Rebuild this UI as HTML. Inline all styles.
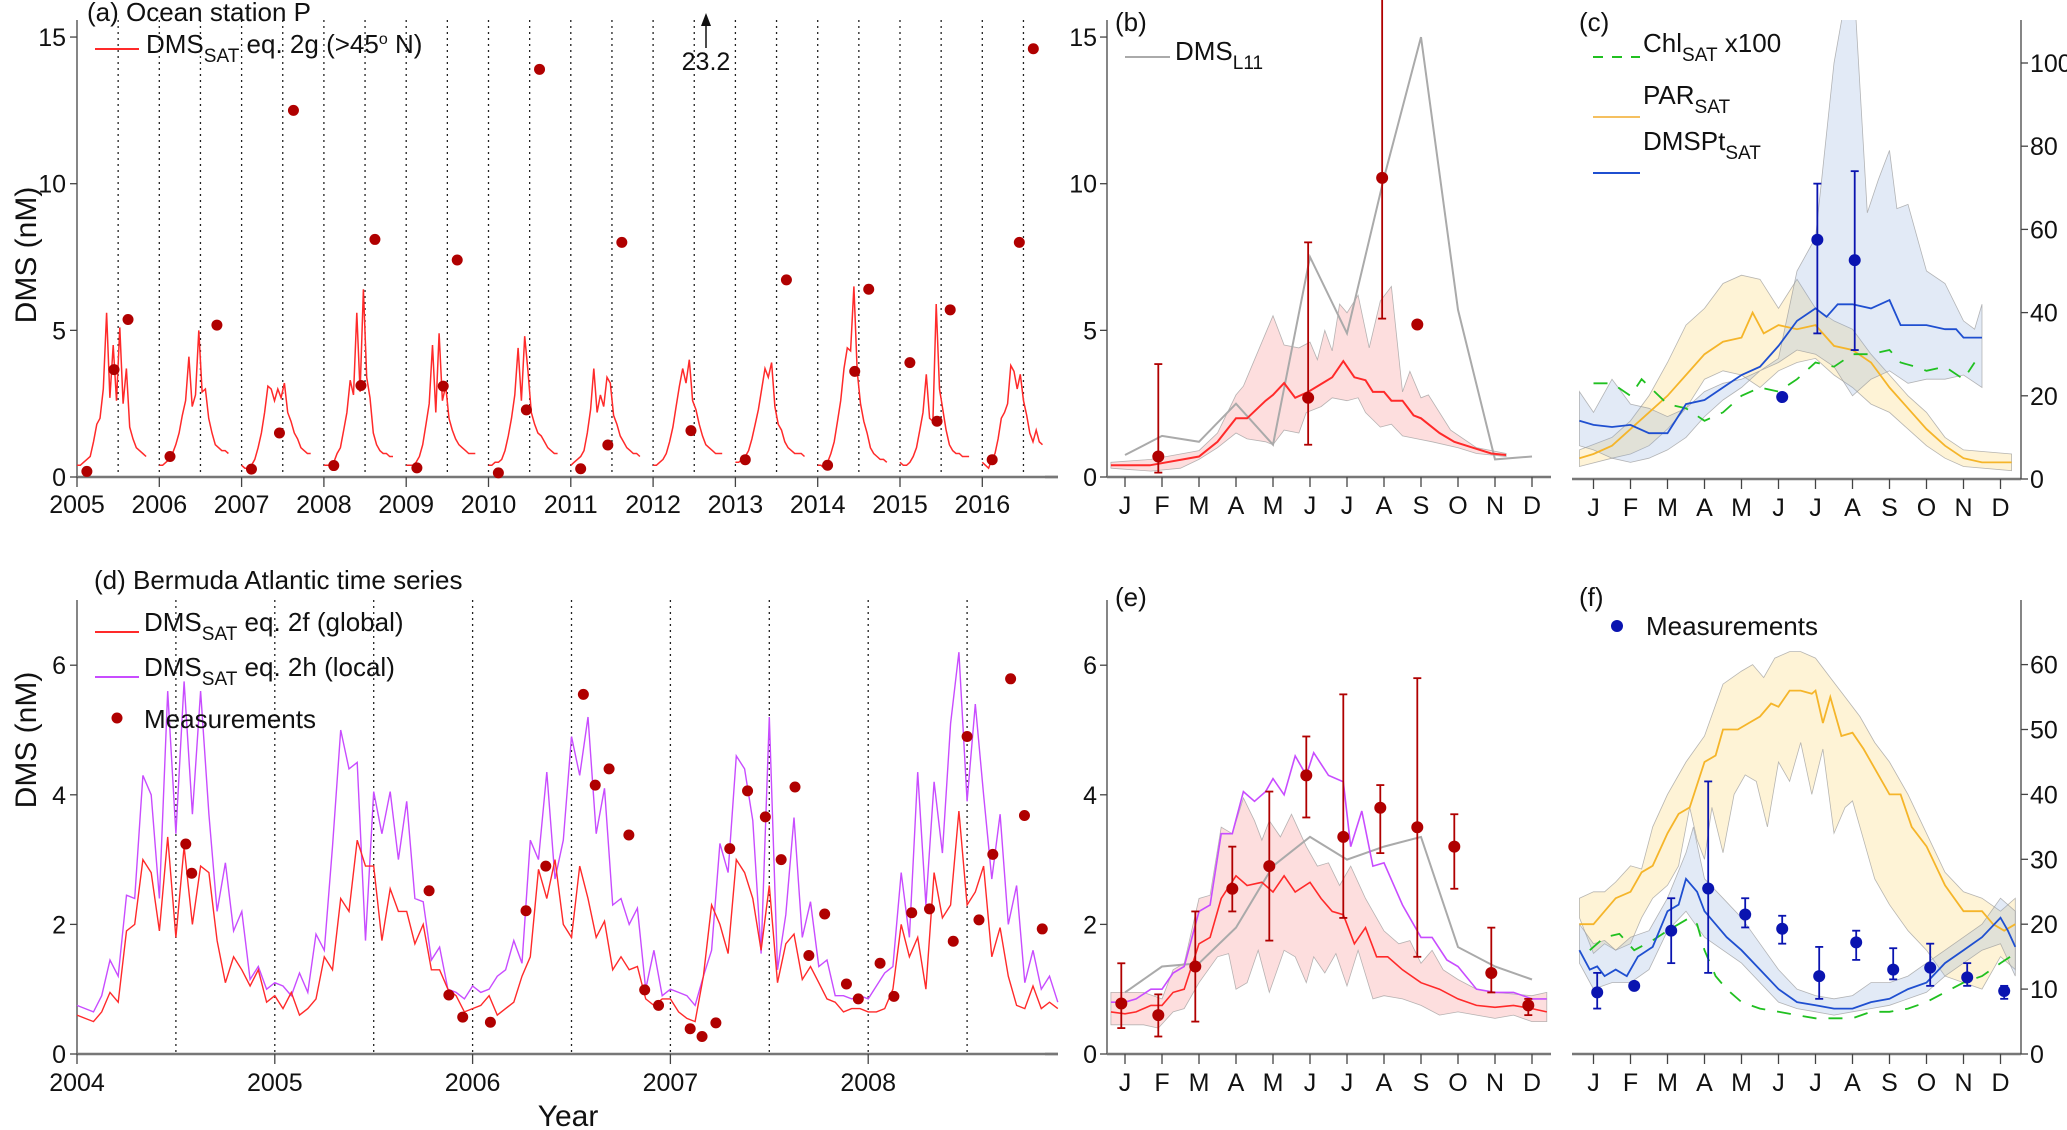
<!DOCTYPE html>
<html><head><meta charset="utf-8">
<style>
html,body{margin:0;padding:0;background:#fff;}
svg{display:block;font-family:"Liberation Sans Narrow","Liberation Sans",sans-serif;}
</style></head>
<body>
<svg id="fig" width="2067" height="1130" viewBox="0 0 2067 1130" xmlns="http://www.w3.org/2000/svg">
<defs>
<clipPath id="clipC"><rect x="1572" y="20" width="449" height="460"/></clipPath>
</defs>
</svg>
<script>
// ===== Panel (a) data =====
const aYears=[2005,2006,2007,2008,2009,2010,2011,2012,2013,2014,2015,2016];
const aSeries=[
[0.4,0.4,0.5,0.6,0.7,1.2,1.8,2.0,3.0,5.6,2.7,4.5,2.6,5.1,2.5,3.7,1.7,1.3,1.0,0.9,0.8,0.7],
[0.4,0.4,0.5,0.6,0.8,1.1,1.5,2.1,2.6,4.1,2.4,2.8,5.0,2.9,3.0,2.0,1.5,1.1,1.0,0.9,0.9,0.8],
[0.4,0.3,0.3,0.4,0.6,1.0,1.5,2.2,3.1,3.0,2.6,3.0,2.7,3.2,2.2,1.9,1.5,1.3,1.0,0.9,0.8,0.8],
[0.4,0.4,0.4,0.5,0.8,1.0,1.6,2.2,3.3,2.8,5.6,2.9,6.4,3.4,2.7,1.5,1.1,0.9,0.8,0.8,0.7,0.7],
[0.4,0.4,0.4,0.5,0.7,1.1,1.8,2.5,4.5,2.2,4.9,2.6,3.1,2.0,1.6,1.3,1.1,1.0,0.9,0.8,0.8,0.8],
[0.4,0.4,0.5,0.5,0.6,0.9,1.4,2.0,2.8,4.4,2.6,4.8,3.6,2.2,1.8,1.5,1.4,1.2,1.0,0.9,0.8,0.8],
[0.4,0.5,0.6,0.7,0.9,1.5,2.3,3.7,2.2,2.8,2.4,3.4,3.2,2.1,1.8,1.4,1.2,1.0,0.9,0.8,0.8,0.7],
[0.4,0.4,0.5,0.6,0.8,1.2,1.7,2.4,3.1,3.7,3.2,4.0,2.6,2.3,1.8,1.4,1.1,1.0,0.9,0.8,0.8,0.8],
[0.5,0.5,0.6,0.7,0.9,1.3,1.8,2.3,3.0,3.7,3.4,3.9,2.4,1.8,1.6,1.2,1.0,0.9,0.8,0.8,0.8,0.7],
[0.4,0.4,0.3,0.5,0.8,1.2,1.9,2.6,3.7,4.4,4.3,6.5,3.6,2.5,1.9,1.5,1.0,0.8,0.7,0.6,0.6,0.5],
[0.5,0.4,0.4,0.5,0.7,1.0,1.6,2.2,3.5,2.0,1.9,5.9,3.0,2.3,1.6,1.1,0.9,0.8,0.8,0.7,0.7,0.7],
[0.5,0.4,0.3,0.6,0.8,1.3,2.0,2.2,2.5,3.8,3.6,3.0,3.5,2.6,2.1,1.5,1.2,1.6,1.2,1.1]
];
const aMeasT=[2005.12,2005.45,2005.62,2006.13,2006.70,2007.12,2007.46,2007.63,2008.12,2008.45,2008.62,2009.13,2009.45,2009.62,2010.12,2010.46,2010.62,2011.12,2011.45,2011.62,2012.46,2013.12,2013.62,2014.12,2014.45,2014.62,2015.12,2015.45,2015.61,2016.12,2016.45,2016.62];
const aMeasV=[0.19,3.66,5.37,0.7,5.18,0.27,1.5,12.5,0.39,3.12,8.1,0.31,3.1,7.4,0.14,2.29,13.9,0.28,1.09,8.0,1.58,0.59,6.72,0.4,3.6,6.4,3.9,1.9,5.7,0.59,8.0,14.6];
const aTicks=[0,5,10,15];

// ===== Panel (b) data =====
const bRedX=[-0.38,0.67,2,2.5,3.0,3.3,3.8,4.0,4.3,4.6,4.95,5.6,5.9,6.2,6.5,6.7,7.0,7.2,7.5,7.8,8.0,8.5,8.9,9.4,9.9,10.3];
const bRedY=[0.4,0.4,0.7,1.2,2.0,2.0,2.6,2.8,3.2,2.7,2.9,3.4,3.95,3.4,3.3,2.9,2.9,2.6,2.6,2.1,2.0,1.5,1.2,1.0,0.8,0.75];
const bUpX=[-0.38,0.7,2,2.5,3.0,3.2,4.0,4.3,4.7,5.0,5.2,5.4,5.6,5.8,6.0,6.3,6.6,6.9,7.2,7.5,7.7,8.0,8.2,8.8,9.5,10.3];
const bUpY=[0.5,0.6,0.9,1.5,2.8,3.1,5.5,4.5,4.4,4.6,4.0,5.0,4.3,5.9,5.6,6.2,4.4,6.0,6.5,2.9,3.6,2.7,2.8,1.6,1.0,0.8];
const bLoX=[-0.38,0.7,1.5,2.0,2.5,3.0,3.3,3.8,4.0,4.3,4.7,4.9,5.3,5.6,6.0,6.3,6.5,6.9,7.2,7.5,7.9,8.3,9.0,9.5,10.3];
const bLoY=[0.3,0.2,0.3,0.6,1.0,1.5,1.3,1.2,1.1,1.6,1.5,2.2,2.4,2.7,2.6,2.7,2.2,1.7,1.8,1.4,1.3,1.2,1.0,0.8,0.7];
const bL11X=[0,1,2,3,4,5,6,7,8,9,10,11];
const bL11Y=[0.75,1.4,1.2,2.5,1.1,7.5,4.9,10.2,15,5.7,0.6,0.7];
const bMeasX=[0.9,4.95,6.95,7.9];
const bMeasV=[0.7,2.7,10.2,5.2];
const bMeasLo=[0.15,1.1,5.4,5.2];
const bMeasHi=[3.85,8.0,16.5,5.2];

// ===== Panel (c) data (right axis) =====
const cBluX=[-0.38,0,0.5,1,1.5,2,2.5,3,3.5,4,4.5,5,5.5,6,6.3,6.6,7,7.5,8,8.3,8.7,9,9.5,9.8,10,10.3,10.5];
const cBluY=[14,13,12.5,13,11,11,18,19,22,25,27,32,38,41,39,42,42,41,43,37,37,37,36,36,34,34,34];
const cBluUpX=[-0.38,0,0.5,1,1.5,2,2.5,3,3.5,4,4.5,5,5.5,6,6.5,7,7.4,7.7,8.0,8.2,8.5,9,9.5,10,10.3,10.5];
const cBluUpY=[21,16,24,18,17,15,17,21,23,24,26,29,50,58,100,125,64,72,79,65,66,50,47,38,36,42];
const cBluLoX=[-0.38,0,0.5,1,1.5,2,2.5,3,3.5,4,4.5,5,5.5,6,6.5,7,7.5,8,8.5,9,9.5,10,10.5];
const cBluLoY=[8,7,5,4,5,7,10,15,19,22,26,28,31,30,27,20,24,26,23,24,24,25,22];
const cParX=[-0.38,0,0.5,1,1.5,2,2.5,3,3.5,4,4.3,4.6,5,5.5,6,6.5,7,7.5,8,8.5,9,9.5,10,10.5,11.3];
const cParY=[5,6,8,12,16,20,25,30,33,34,40,35,37,36,37,32,31,28,22,17,12,8,5,4,4];
const cParUpX=[-0.38,0.5,1,1.5,2,2.5,3,3.5,4,4.5,5,5.5,6,6.5,7,7.5,8,8.5,9,9.5,10,11.3];
const cParUpY=[7,10,14,20,28,37,41,47,49,48,41,48,41,38,36,30,25,20,16,10,7,6];
const cParLoX=[-0.38,0.5,1,1.5,2,2.5,3,3.5,4,4.5,5,5.5,6,6.5,7,7.5,8,8.5,9,9.5,10,11.3];
const cParLoY=[3,5,6,8,12,17,24,26,25,22,26,28,29,25,22,18,16,12,8,5,3,2];
const cChlX=[0,0.5,1,1.3,2,2.5,3,3.5,4,4.5,5,5.5,6,6.5,7,7.5,8,8.3,8.7,9,9.5,10,10.3];
const cChlY=[23,23,20,24,18,17,14,16,20,22,21,24,28,27,30,30,31,28,27,26,27,24,28];
const cMeasX=[5.1,6.05,7.06];
const cMeasV=[19.7,57.5,52.6];
const cMeasLo=[19.7,35,31];
const cMeasHi=[19.7,71,74];
const cTicks=[0,20,40,60,80,100];

// ===== Panel (d) data =====
const dStart=2004;
const dRed=[0.6,0.55,0.5,0.65,0.95,0.8,1.9,2.0,3.0,2.8,1.9,3.35,1.8,3.2,2.0,2.9,2.8,1.75,1.1,1.5,1.3,1.05,1.3,0.8,
0.9,0.7,0.95,0.6,0.7,0.85,1.5,1.3,2.4,2.2,3.3,2.9,2.9,1.75,2.55,2.2,2.2,1.7,2.0,1.3,1.3,1.0,0.9,0.65,
0.7,0.75,0.9,0.6,0.7,0.8,1.2,1.5,2.85,2.4,3.0,2.0,1.8,2.9,2.4,1.8,2.05,1.3,1.5,1.3,1.35,0.85,0.75,0.85,
0.85,0.65,0.55,0.5,1.2,2.3,2.0,1.55,3.0,2.8,2.4,1.6,2.6,1.1,1.7,1.85,1.15,1.35,1.1,0.85,0.8,0.65,0.7,0.7,
0.65,0.65,0.7,1.0,2.0,1.5,1.8,1.0,2.8,2.1,2.3,3.75,2.3,2.5,2.9,1.5,1.95,1.2,0.75,0.7,1.05,0.7,0.8,0.7];
const dPur=[0.75,0.7,0.65,0.9,1.45,1.2,2.45,2.4,4.3,4.0,2.4,5.6,3.4,5.75,3.7,5.6,3.7,2.2,2.95,1.9,2.2,1.15,1.35,1.0,
1.1,1.05,0.9,1.25,0.95,1.85,1.6,3.2,5.0,4.4,4.5,1.75,4.05,3.4,4.05,3.0,3.9,2.4,2.35,1.45,1.65,1.0,0.95,0.85,
1.05,0.95,1.0,1.2,1.3,1.75,1.4,3.3,3.0,4.35,2.7,3.3,4.9,4.3,5.2,3.4,4.1,2.3,2.4,2.0,2.25,1.0,1.6,0.9,
1.0,0.95,0.9,0.75,1.2,1.6,3.25,2.8,4.6,4.4,3.6,1.55,5.2,1.3,2.15,3.65,1.8,2.35,1.35,1.45,0.9,0.9,0.85,0.9,
0.85,1.05,1.25,1.35,2.8,1.8,4.35,2.3,4.2,3.1,5.1,6.2,3.9,5.4,4.0,2.7,3.7,2.0,2.6,1.1,1.6,1.0,1.2,0.8];
const dMeasT=[2004.55,2004.58,2005.78,2005.88,2005.95,2006.09,2006.27,2006.37,2006.56,2006.62,2006.69,2006.79,2006.87,2006.94,2007.10,2007.16,2007.23,2007.30,2007.39,2007.48,2007.56,2007.63,2007.70,2007.78,2007.89,2007.95,2008.06,2008.13,2008.22,2008.31,2008.43,2008.50,2008.56,2008.63,2008.72,2008.79,2008.88];
const dMeasV=[3.24,2.79,2.52,0.91,0.57,0.49,2.21,2.9,5.55,4.15,4.4,3.38,0.99,0.75,0.39,0.27,0.48,3.17,4.06,3.66,3.0,4.12,1.52,2.16,1.08,0.85,1.4,0.89,2.18,2.24,1.74,4.9,2.07,3.08,5.79,3.68,1.93];
const dTicks=[0,2,4,6];
const dYears=[2004,2005,2006,2007,2008];

// ===== Panel (e) data =====
const eRedX=[-0.38,0,0.3,0.7,1,1.3,1.6,2,2.3,2.6,3,3.3,3.7,4,4.3,4.6,5,5.3,5.6,5.9,6.2,6.5,6.8,7.1,7.5,8,8.5,9,9.5,10,10.5,11,11.4];
const eRedY=[0.65,0.62,0.65,0.75,0.75,0.95,1.0,1.7,1.8,2.4,2.75,2.6,2.65,2.5,2.75,2.5,2.65,2.4,2.2,2.15,1.7,1.95,1.5,1.5,1.3,1.1,1.0,0.85,0.75,0.72,0.75,0.7,0.65];
const ePurX=[-0.38,0,0.3,0.7,1,1.3,1.6,2,2.3,2.6,2.9,3.2,3.5,3.8,4.0,4.3,4.6,4.9,5.1,5.5,5.9,6.1,6.4,6.7,7.0,7.5,8.0,8.3,8.7,9.0,9.5,10,10.5,11,11.4];
const ePurY=[0.8,0.8,0.85,1.0,1.0,1.25,1.35,2.2,2.3,3.4,3.4,4.05,3.9,4.05,4.25,4.0,4.6,4.3,4.65,4.3,4.2,3.2,3.75,2.9,2.95,2.3,1.8,1.8,1.45,1.35,1.0,0.95,0.95,0.85,0.85];
const eUpX=[-0.38,0.5,1,1.3,1.6,2,2.3,2.6,2.9,3.2,3.5,3.7,3.9,4.2,4.5,4.9,5.2,5.5,5.8,6.1,6.5,7,7.4,7.7,8,8.3,8.6,9,9.5,10,11,11.4];
const eUpY=[0.95,0.95,0.85,1.3,1.4,2.4,2.45,3.5,3.4,3.95,3.6,3.3,3.6,3.35,3.7,3.2,2.9,2.95,2.6,2.9,2.4,1.9,1.7,1.75,1.4,1.6,1.3,1.15,1.0,0.95,0.9,0.95];
const eLoX=[-0.38,0,0.5,0.9,1.3,1.6,2,2.5,2.8,3.0,3.3,3.6,3.9,4.3,4.6,4.9,5.1,5.4,5.7,6,6.3,6.7,7,7.5,8,8.5,9,9.5,10,10.5,11,11.4];
const eLoY=[0.45,0.45,0.45,0.4,0.65,0.7,1.1,1.5,1.55,1.0,1.1,1.6,0.95,1.6,1.5,1.1,1.5,1.25,1.55,1.05,1.6,0.85,0.9,0.85,0.75,0.6,0.65,0.6,0.55,0.6,0.5,0.5];
const eL11X=[0,1,2,3,4,5,6,7,8,9,10,11];
const eL11Y=[0.95,1.35,1.4,1.95,2.9,3.35,3.0,3.2,3.35,1.65,1.35,1.15];
const eMeasX=[-0.1,0.9,1.9,2.9,3.9,4.9,5.9,6.9,7.9,8.9,9.9,10.9];
const eMeasV=[0.78,0.6,1.35,2.55,2.9,4.3,3.35,3.8,3.5,3.2,1.25,0.75];
const eMeasLo=[0.4,0.27,0.5,2.2,1.75,3.65,2.1,3.1,1.5,2.55,0.95,0.6];
const eMeasHi=[1.4,0.92,2.2,3.2,4.05,4.9,5.55,4.15,5.8,3.7,1.95,0.85];

// ===== Panel (f) data (right axis) =====
const fParX=[-0.38,0,0.3,0.6,1,1.3,1.6,2,2.3,2.6,3,3.3,3.5,3.9,4.2,4.5,4.8,5.0,5.3,5.6,5.9,6.0,6.2,6.4,6.7,7.0,7.3,7.7,8.0,8.3,8.6,9.0,9.5,10,10.5,10.8,11.1,11.4];
const fParY=[20,20,22,24,25,28,29,34,37,38,45,46,50,50,51,52,54,53.5,56,56,55.5,56,51,55,49,49.5,47,43,40,40,35,32,26,22,22,20,19,20];
const fParUpX=[-0.38,0,0.3,0.6,1,1.3,1.6,2,2.5,3,3.5,4,4.3,4.6,4.9,5.3,5.6,6,6.4,6.8,7.2,7.6,8.0,8.5,9,9.5,10,10.5,11,11.4];
const fParUpY=[24,25,25,26.5,29,28.5,35,40,45,49,57,59,60,58,61,62,62,61,58,55,52,48,45,40,34,28,25,24,22,24];
const fParLoX=[-0.38,0,0.3,0.6,1,1.3,1.6,2,2.3,2.6,2.8,3.0,3.2,3.5,3.8,4.1,4.4,4.7,5.0,5.3,5.6,5.9,6.2,6.5,6.8,7.0,7.3,7.6,8.0,8.5,9,9.5,10,10.5,11,11.4];
const fParLoY=[21,15.5,17,16,17,21,24,26,29,38,33,30,38,31,40,43,42,35,45,42,48,40,47,34,38,39,33,27,23,19,16,12,11,10,15,13];
const fBluX=[-0.38,-0.1,0.1,0.3,0.6,0.9,1.2,1.6,2,2.3,2.5,2.8,3.0,3.3,3.6,4,4.5,5,5.5,6,6.5,7,7.5,8,8.5,9,9.5,10,10.5,11,11.2,11.4];
const fBluY=[16,13,13.5,12,13,12,15,16.5,22,23,27,25,22,20,18,16,13,10,8,7.5,7,7,8,8.5,10,11,14,16,18,21,19,16.5];
const fBluUpX=[-0.38,0,0.3,0.6,1,1.5,2,2.5,2.7,3,3.5,4,4.5,5,5.5,6,6.5,7,7.5,8,8.5,9,9.5,10,10.5,11,11.4];
const fBluUpY=[20,17,17.5,16,18,19,24,31,35,27,24,21,17,13,10,9,8.5,9,11,11,12,14,16,18,20,24,22];
const fBluLoX=[-0.38,0,0.5,1,1.5,2,2.5,3,3.5,4,4.5,5,5.5,6,6.5,7,7.5,8,8.5,9,9.5,10,10.5,11,11.4];
const fBluLoY=[14,10,11,11,13,19,22,18,16,14,11,8,7,6.5,6,6.5,7,7.5,8.5,9.5,12,14,16,17,12];
const fChlX=[-0.1,0.3,0.7,1.1,1.6,2,2.3,2.6,2.8,3.0,3.3,3.6,4,4.5,5,5.5,6,6.5,7,7.5,8,8.5,9,9.5,10,10.5,11,11.4];
const fChlY=[16,18,18.5,16,17.5,19,20,21,20,16,12,10,8,7,6.5,6,5.5,5.5,5.5,6.5,6.5,7,8,9.5,11,12,14,15.5];
const fMeasX=[0.1,1.1,2.1,3.1,4.1,5.1,6.1,7.1,8.1,9.1,10.1,11.1];
const fMeasV=[9.5,10.5,19,25.5,21.5,19.3,12,17.2,13,13.3,11.8,9.7];
const fMeasLo=[7,10,14,12.5,19.5,17,8.5,14.5,11.5,10.5,10.5,8.5];
const fMeasHi=[12.5,11,24,42,24,21.3,16.5,19,16.3,17,14,10.5];
const fTicks=[0,10,20,30,40,50,60];
const months=["J","F","M","A","M","J","J","A","S","O","N","D"];

// ===== helpers =====
const NS="http://www.w3.org/2000/svg";
const svg=document.getElementById('fig');
const FS=26, TS=25;
function mk(tag,attrs,parent){const e=document.createElementNS(NS,tag);for(const k in attrs)e.setAttribute(k,attrs[k]);(parent||svg).appendChild(e);return e;}
function txt(x,y,s,size,anchor,parent){const t=mk('text',{x:x,y:y,'font-size':size,'text-anchor':anchor||'start',fill:'#111'},parent);t.textContent=s;return t;}
function pathD(xs,ys,sx,sy){return xs.map((v,i)=>(i?'L':'M')+sx(v).toFixed(1)+','+sy(ys[i]).toFixed(1)).join('');}
function group(name){const g=mk('g',{});return g;}

// scales
const aX=t=>77+(t-2005)*82.3, aY=v=>477-v*29.33;
const mX=m=>1125+m*37.0;
const cX=m=>1593.5+m*37.0;
const cY=v=>479-v*4.16;
const dX=t=>77+(t-2004)*197.8, dY=v=>1054-v*64.8;
const fY=v=>1054-v*6.49;

// ===== Panel (a) =====
{
const g=group('panel-a');
for(let t=2005.5;t<=2016.51;t+=0.5){const l=mk('line',{x1:aX(t),x2:aX(t),y1:20,y2:477,stroke:'#222','stroke-width':1.3,'stroke-dasharray':'2,4'},g);}
mk('line',{x1:77,x2:77,y1:20,y2:477,stroke:'#444','stroke-width':1.3},g);
mk('line',{x1:77,x2:1058,y1:477,y2:477,stroke:'#777','stroke-width':2.5},g);
aTicks.forEach(v=>{mk('line',{x1:70,x2:77,y1:aY(v),y2:aY(v),stroke:'#444','stroke-width':1.3},g);const t=txt(66,aY(v)+9,String(v),TS,'end',g);});
aYears.forEach(y=>{mk('line',{x1:aX(y),x2:aX(y),y1:477,y2:487,stroke:'#444','stroke-width':1.3},g);const t=txt(aX(y),513,String(y),TS,'middle',g);});
aSeries.forEach((s,k)=>{const step=k===aSeries.length-1?0.0385:0.04;const xs=s.map((_,i)=>aYears[k]+i*step);const p=mk('path',{d:pathD(xs,s,aX,aY),fill:'none',stroke:'#ff2a2a','stroke-width':1.5},g);});
aMeasT.forEach((t,i)=>{const c=mk('circle',{cx:aX(t),cy:aY(aMeasV[i]),r:5.5,fill:'#b00000'},g);});
mk('line',{x1:706,x2:706,y1:48,y2:18,stroke:'#111','stroke-width':1.5},g);
mk('path',{d:'M701,26 L706,13 L711,26 Z',fill:'#111'},g);
const ar=txt(706,70,'23.2',TS,'middle',g);
const ti=txt(87,21,'(a) Ocean station P',FS,'start',g);
mk('line',{x1:95,x2:139,y1:49,y2:49,stroke:'#ff2a2a','stroke-width':2},g);
const lt=mk('text',{x:146,y:53,'font-size':FS,fill:'#111'},g);
lt.innerHTML='DMS<tspan dy="9" font-size="19">SAT</tspan><tspan dy="-9"> eq. 2g (&gt;45</tspan><tspan dy="-9" font-size="16">o</tspan><tspan dy="9"> N)</tspan>';
const yt=mk('text',{x:0,y:0,'font-size':30,'text-anchor':'middle',fill:'#111',transform:'translate(36,255) rotate(-90)'});yt.textContent='DMS (nM)';
}

function monthAxis(g,xf,x0,x1,yAxis){
  mk('line',{x1:x0,x2:x1,y1:yAxis,y2:yAxis,stroke:'#777','stroke-width':2.5},g);
  months.forEach((m,i)=>{mk('line',{x1:xf(i),x2:xf(i),y1:yAxis,y2:yAxis+10,stroke:'#444','stroke-width':1.3},g);const t=txt(xf(i),yAxis+37,m,TS,'middle',g);});
}
function errbars(g,xs,v,lo,hi,sx,sy,col,name){
  xs.forEach((x,i)=>{
    if(hi[i]!==lo[i]){
      mk('line',{x1:sx(x),x2:sx(x),y1:sy(lo[i]),y2:sy(hi[i]),stroke:col,'stroke-width':1.8},g);
      mk('line',{x1:sx(x)-4,x2:sx(x)+4,y1:sy(lo[i]),y2:sy(lo[i]),stroke:col,'stroke-width':1.8},g);
      mk('line',{x1:sx(x)-4,x2:sx(x)+4,y1:sy(hi[i]),y2:sy(hi[i]),stroke:col,'stroke-width':1.8},g);
    }
    const c=mk('circle',{cx:sx(x),cy:sy(v[i]),r:6,fill:col},g);
    
  });
}
function band(g,ux,uy,lx,ly,sx,sy,fill,name){
  let d=pathD(ux,uy,sx,sy);
  const rx=lx.slice().reverse(), ry=ly.slice().reverse();
  d+=rx.map((v,i)=>'L'+sx(v).toFixed(1)+','+sy(ry[i]).toFixed(1)).join('')+'Z';
  const p=mk('path',{d:d,fill:fill,stroke:'#999','stroke-width':0.8,'stroke-opacity':0.7},g);
  
}
function line(g,xs,ys,sx,sy,col,w,name,dash){
  const a={d:pathD(xs,ys,sx,sy),fill:'none',stroke:col,'stroke-width':w};
  if(dash)a['stroke-dasharray']=dash;
  const p=mk('path',a,g);
}

// ===== Panel (b) =====
{
const g=group('panel-b');
mk('line',{x1:1107,x2:1107,y1:20,y2:477,stroke:'#444','stroke-width':1.3},g);
aTicks.forEach(v=>{mk('line',{x1:1100,x2:1107,y1:aY(v),y2:aY(v),stroke:'#444','stroke-width':1.3},g);const t=txt(1097,aY(v)+9,String(v),TS,'end',g);});
mk('line',{x1:1045,x2:1058,y1:477,y2:477,stroke:'#777','stroke-width':2.5},g);
monthAxis(g,mX,1107,1551,477);
band(g,bUpX,bUpY,bLoX,bLoY,mX,aY,'rgba(250,160,160,0.35)','dms-sat-range');
line(g,bL11X,bL11Y,mX,aY,'#aaa',2,'dms-l11-line');
line(g,bRedX,bRedY,mX,aY,'#ff2a2a',2,'dms-sat-mean');
errbars(g,bMeasX,bMeasV,bMeasLo,bMeasHi,mX,aY,'#b00000','measurement-point');
const t=txt(1115,31,'(b)',FS,'start',g);
mk('line',{x1:1125,x2:1170,y1:57,y2:57,stroke:'#aaa','stroke-width':2},g);
const lt=mk('text',{x:1175,y:60,'font-size':FS,fill:'#111'},g);lt.innerHTML='DMS<tspan dy="9" font-size="19">L11</tspan>';

}

// ===== Panel (c) =====
{
const g=group('panel-c');
monthAxis(g,cX,1572,2021,479);
mk('line',{x1:2021,x2:2021,y1:20,y2:479,stroke:'#444','stroke-width':1.3},g);
cTicks.forEach(v=>{mk('line',{x1:2021,x2:2028,y1:cY(v),y2:cY(v),stroke:'#444','stroke-width':1.3},g);const t=txt(2030,cY(v)+9,String(v),TS,'start',g);});
const cg=mk('g',{'clip-path':'url(#clipC)'},g);
band(cg,cParUpX,cParUpY,cParLoX,cParLoY,cX,cY,'rgba(252,215,120,0.3)','par-range');
band(cg,cBluUpX,cBluUpY,cBluLoX,cBluLoY,cX,cY,'rgba(140,170,220,0.25)','dmspt-range');
line(cg,cParX,cParY,cX,cY,'#f5b52a',1.8,'par-sat-line');
line(cg,cChlX,cChlY,cX,cY,'#20c020',1.8,'chl-sat-line','14,12');
line(cg,cBluX,cBluY,cX,cY,'#1f4fd0',1.8,'dmspt-sat-line');
errbars(g,cMeasX,cMeasV,cMeasLo,cMeasHi,cX,cY,'#0a14b0','dmspt-measurement');
const t=txt(1579,31,'(c)',FS,'start',g);
mk('line',{x1:1593,x2:1640,y1:57,y2:57,stroke:'#20c020','stroke-width':2,'stroke-dasharray':'10,9'},g);
let lt=mk('text',{x:1643,y:52,'font-size':FS,fill:'#111'},g);lt.innerHTML='Chl<tspan dy="9" font-size="19">SAT</tspan><tspan dy="-9"> x100</tspan>';
mk('line',{x1:1593,x2:1640,y1:117,y2:117,stroke:'#f5c060','stroke-width':2},g);
lt=mk('text',{x:1643,y:104,'font-size':FS,fill:'#111'},g);lt.innerHTML='PAR<tspan dy="9" font-size="19">SAT</tspan>';
mk('line',{x1:1593,x2:1640,y1:173,y2:173,stroke:'#1f4fd0','stroke-width':2},g);
lt=mk('text',{x:1643,y:150,'font-size':FS,fill:'#111'},g);lt.innerHTML='DMSPt<tspan dy="9" font-size="19">SAT</tspan>';
}

// ===== Panel (d) =====
{
const g=group('panel-d');
for(let t=2004.5;t<=2008.51;t+=0.5){const l=mk('line',{x1:dX(t),x2:dX(t),y1:600,y2:1054,stroke:'#222','stroke-width':1.3,'stroke-dasharray':'2,4'},g);}
mk('line',{x1:77,x2:77,y1:600,y2:1054,stroke:'#444','stroke-width':1.3},g);
mk('line',{x1:77,x2:1058,y1:1054,y2:1054,stroke:'#777','stroke-width':2.5},g);
dTicks.forEach(v=>{mk('line',{x1:70,x2:77,y1:dY(v),y2:dY(v),stroke:'#444','stroke-width':1.3},g);const t=txt(66,dY(v)+9,String(v),TS,'end',g);});
dYears.forEach(y=>{mk('line',{x1:dX(y),x2:dX(y),y1:1054,y2:1064,stroke:'#444','stroke-width':1.3},g);const t=txt(dX(y),1091,String(y),TS,'middle',g);});
const xs=dPur.map((_,i)=>dStart+i/24);
line(g,xs,dPur,dX,dY,'#c84cff',1.4,'dms-local-line');
line(g,xs,dRed,dX,dY,'#ff2a2a',1.4,'dms-global-line');
dMeasT.forEach((t,i)=>{const c=mk('circle',{cx:dX(t),cy:dY(dMeasV[i]),r:5.5,fill:'#b00000'},g);});
let t=txt(94,589,'(d) Bermuda Atlantic time series',FS,'start',g);
mk('line',{x1:95,x2:139,y1:632,y2:632,stroke:'#ff2a2a','stroke-width':2},g);
let lt=mk('text',{x:144,y:631,'font-size':FS,fill:'#111'},g);lt.innerHTML='DMS<tspan dy="9" font-size="19">SAT</tspan><tspan dy="-9"> eq. 2f (global)</tspan>';
mk('line',{x1:95,x2:139,y1:677,y2:677,stroke:'#c84cff','stroke-width':2},g);
lt=mk('text',{x:144,y:676,'font-size':FS,fill:'#111'},g);lt.innerHTML='DMS<tspan dy="9" font-size="19">SAT</tspan><tspan dy="-9"> eq. 2h (local)</tspan>';
mk('circle',{cx:117,cy:718,r:5.5,fill:'#b00000'},g);
t=txt(144,728,'Measurements',FS,'start',g);
const yt=mk('text',{x:0,y:0,'font-size':30,'text-anchor':'middle',fill:'#111',transform:'translate(36,740) rotate(-90)'});yt.textContent='DMS (nM)';
const xt=txt(568,1126,'Year',30,'middle');
}

// ===== Panel (e) =====
{
const g=group('panel-e');
mk('line',{x1:1107,x2:1107,y1:600,y2:1054,stroke:'#444','stroke-width':1.3},g);
dTicks.forEach(v=>{mk('line',{x1:1100,x2:1107,y1:dY(v),y2:dY(v),stroke:'#444','stroke-width':1.3},g);const t=txt(1097,dY(v)+9,String(v),TS,'end',g);});
mk('line',{x1:1045,x2:1058,y1:1054,y2:1054,stroke:'#777','stroke-width':2.5},g);
monthAxis(g,mX,1107,1551,1054);
band(g,eUpX,eUpY,eLoX,eLoY,mX,dY,'rgba(250,160,160,0.35)','dms-sat-range');
line(g,eL11X,eL11Y,mX,dY,'#aaa',2,'dms-l11-line');
line(g,ePurX,ePurY,mX,dY,'#c84cff',1.6,'dms-local-mean');
line(g,eRedX,eRedY,mX,dY,'#ff2a2a',1.6,'dms-global-mean');
errbars(g,eMeasX,eMeasV,eMeasLo,eMeasHi,mX,dY,'#b00000','measurement-point');
const t=txt(1115,606,'(e)',FS,'start',g);
}

// ===== Panel (f) =====
{
const g=group('panel-f');
monthAxis(g,cX,1572,2021,1054);
mk('line',{x1:2021,x2:2021,y1:600,y2:1054,stroke:'#444','stroke-width':1.3},g);
fTicks.forEach(v=>{mk('line',{x1:2021,x2:2028,y1:fY(v),y2:fY(v),stroke:'#444','stroke-width':1.3},g);const t=txt(2030,fY(v)+9,String(v),TS,'start',g);});
band(g,fParUpX,fParUpY,fParLoX,fParLoY,cX,fY,'rgba(252,215,120,0.3)','par-range');
band(g,fBluUpX,fBluUpY,fBluLoX,fBluLoY,cX,fY,'rgba(140,170,220,0.25)','dmspt-range');
line(g,fParX,fParY,cX,fY,'#f5b52a',1.8,'par-sat-line');
line(g,fChlX,fChlY,cX,fY,'#20c020',1.8,'chl-sat-line','14,12');
line(g,fBluX,fBluY,cX,fY,'#1f4fd0',1.8,'dmspt-sat-line');
errbars(g,fMeasX,fMeasV,fMeasLo,fMeasHi,cX,fY,'#0a14b0','dmspt-measurement');
let t=txt(1579,606,'(f)',FS,'start',g);
mk('circle',{cx:1617,cy:626,r:6,fill:'#0a14b0'},g);
t=txt(1646,635,'Measurements',FS,'start',g);
}
</script>
</body></html>
